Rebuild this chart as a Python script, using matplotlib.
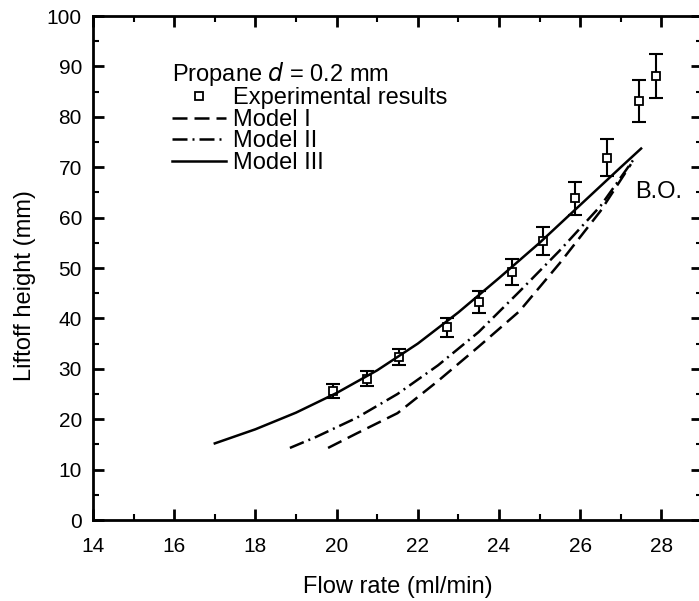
import matplotlib
matplotlib.use('Agg')
import matplotlib.pyplot as plt

plt.rcParams['font.family'] = ['Liberation Sans', 'DejaVu Sans']

# experimental points (flow rate ml/min, liftoff height mm, error)
expX = [19.91, 20.74, 21.54, 22.72, 23.5, 24.32, 25.08, 25.88, 26.67, 27.44, 27.87]
expY = [25.6, 28.0, 32.3, 38.2, 43.2, 49.2, 55.3, 63.8, 71.9, 83.2, 88.1]
expErr = [1.4, 1.5, 1.6, 1.9, 2.2, 2.5, 2.8, 3.2, 3.6, 4.2, 4.3]

# model curves
m1X = [19.79, 20.5, 21.5, 22.5, 23.5, 24.5, 25.5, 26.5, 27.25]
m1Y = [14.3, 17.2, 21.2, 27.6, 34.4, 41.4, 51.0, 61.3, 70.6]

m2X = [18.85, 19.5, 20.5, 21.5, 22.5, 23.5, 24.5, 25.5, 26.5, 27.32]
m2Y = [14.3, 16.5, 20.3, 25.0, 30.7, 37.3, 45.3, 53.5, 62.3, 71.6]

m3X = [17, 18, 19, 20, 21, 22, 23, 24, 25, 26, 27, 27.5]
m3Y = [15.2, 18.0, 21.3, 25.2, 29.7, 35.0, 41.2, 48.0, 55.0, 62.5, 70.0, 73.7]

fig = plt.figure(figsize=(6.99, 6.01), dpi=100)
ax = fig.add_axes([93 / 699, 81 / 601, 609 / 699, 504 / 601])

ax.errorbar(expX, expY, yerr=expErr, fmt='none', ecolor='black',
            elinewidth=1.5, capsize=5, capthick=1.5)
ax.plot(expX, expY, 's', mfc='white', mec='black', mew=1.3, ms=6,
        linestyle='none', label='Experimental results')
ax.plot(m1X, m1Y, color='black', lw=1.8, dashes=(6, 2.8), label='Model I')
ax.plot(m2X, m2Y, color='black', lw=1.8, dashes=(6, 2, 0.8, 2), label='Model II')
ax.plot(m3X, m3Y, color='black', lw=1.8, label='Model III')

ax.text(27.35, 65.1, 'B.O.', fontsize=17, va='center', ha='left')

ax.set_xlim(14, 29)
ax.set_ylim(0, 100)
ax.set_xticks(range(14, 29, 2))
ax.set_xticks(range(15, 29, 2), minor=True)
ax.set_yticks(range(0, 101, 10))
ax.set_yticks(range(5, 100, 10), minor=True)
ax.tick_params(which='both', direction='in', top=True, right=True,
               labelsize=15)
ax.tick_params(which='major', length=8, width=2, pad=8)
ax.tick_params(which='minor', length=4.5, width=1.5)
ax.tick_params(axis='x', which='major', pad=12)
for s in ax.spines.values():
    s.set_linewidth(2)

ax.set_xlabel('Flow rate (ml/min)', fontsize=17)
ax.set_ylabel('Liftoff height (mm)', fontsize=17)
ax.xaxis.set_label_coords(0.5, -0.111)
ax.yaxis.set_label_coords(-0.093, 0.466)

leg = ax.legend(loc='upper left', bbox_to_anchor=(0.1297, 0.913), frameon=False,
                title='Propane $d$ = 0.2 mm', fontsize=17, title_fontsize=17,
                handlelength=2.3, handletextpad=0.3, labelspacing=-0.02,
                borderpad=0, borderaxespad=0, alignment='left')

fig.savefig('out.png', dpi=100)
